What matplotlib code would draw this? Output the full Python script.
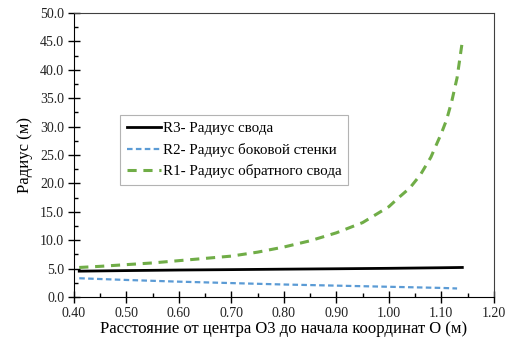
import matplotlib.pyplot as plt
from matplotlib.ticker import MultipleLocator, FormatStrFormatter

plt.rcParams['font.family'] = ['Liberation Serif', 'DejaVu Serif']

# R3 - радиус свода
x_r3 = [0.41, 0.50, 0.60, 0.70, 0.80, 0.90, 1.00, 1.10, 1.14]
r3 = [4.55, 4.65, 4.75, 4.82, 4.90, 4.97, 5.05, 5.15, 5.20]

# R2 - радиус боковой стенки
x_r2 = [0.41, 0.50, 0.60, 0.70, 0.80, 0.90, 1.00, 1.10, 1.13]
r2 = [3.30, 3.00, 2.70, 2.45, 2.20, 2.00, 1.80, 1.60, 1.50]

# R1 - радиус обратного свода
x_r1 = [0.41, 0.45, 0.50, 0.55, 0.60, 0.65, 0.70, 0.75, 0.80, 0.85, 0.90, 0.95,
        1.00, 1.02, 1.04, 1.06, 1.08, 1.10, 1.11, 1.12, 1.13, 1.14]
r1 = [5.2, 5.4, 5.7, 6.0, 6.4, 6.8, 7.2, 7.9, 8.8, 9.9, 11.3, 13.1,
      15.9, 17.6, 19.2, 21.5, 24.6, 28.8, 31.2, 34.5, 38.6, 45.0]

fig = plt.figure(figsize=(5.16, 3.38), dpi=100)
ax = fig.add_axes([0.1434, 0.1213, 0.8136, 0.8402])

ax.plot(x_r3, r3, color='black', lw=2.0, label='R3- Радиус свода')
ax.plot(x_r2, r2, color='#5B9BD5', lw=1.6, dashes=(2.5, 1.5), label='R2- Радиус боковой стенки')
ax.plot(x_r1, r1, color='#70AD47', lw=2.2, dashes=(3.0, 2.2), label='R1- Радиус обратного свода')

ax.set_xlim(0.40, 1.20)
ax.set_ylim(0, 50)
ax.xaxis.set_major_locator(MultipleLocator(0.10))
ax.xaxis.set_minor_locator(MultipleLocator(0.05))
ax.yaxis.set_major_locator(MultipleLocator(5))
ax.yaxis.set_minor_locator(MultipleLocator(2.5))
ax.xaxis.set_major_formatter(FormatStrFormatter('%.2f'))
ax.yaxis.set_major_formatter(FormatStrFormatter('%.1f'))
ax.tick_params(which='major', direction='inout', length=8, width=1, labelsize=10, pad=3,
               labelcolor='#222222')
ax.tick_params(which='minor', direction='in', length=3, width=1)

for s in ['left', 'bottom']:
    ax.spines[s].set_color('black')
for s in ['top', 'right']:
    ax.spines[s].set_color('#404040')

ax.set_xlabel('Расстояние от центра О3 до начала координат О (м)', fontsize=12, labelpad=1)
ax.set_ylabel('Радиус (м)', fontsize=12, labelpad=5)

leg = ax.legend(loc='upper left', bbox_to_anchor=(0.110, 0.640), fontsize=10.8,
                frameon=True, fancybox=False, edgecolor='#a0a0a0',
                handlelength=2.3, handletextpad=0.1, labelspacing=0.5,
                borderpad=0.45, borderaxespad=0)
leg.get_frame().set_linewidth(0.8)

plt.savefig('out.png', dpi=100)
